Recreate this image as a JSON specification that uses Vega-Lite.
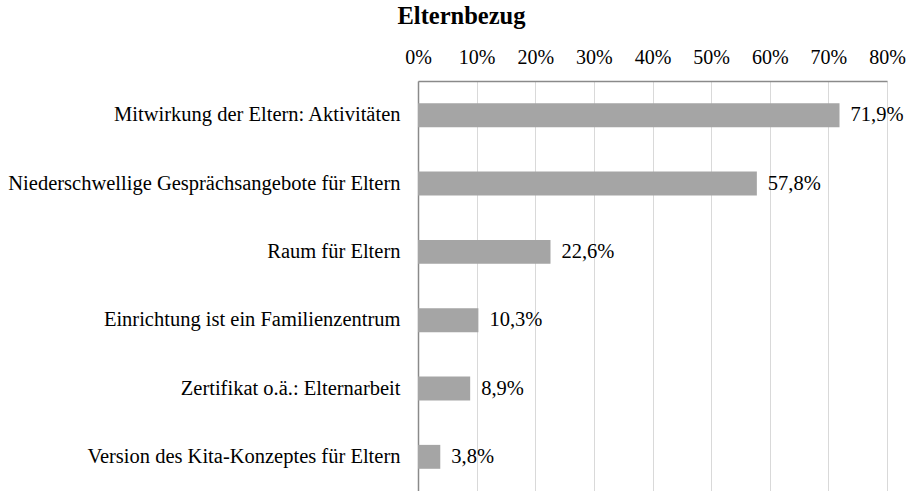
{
  "$schema": "https://vega.github.io/schema/vega-lite/v6.json",
  "autosize": "none",
  "width": 469,
  "height": 410,
  "padding": {"left": 418, "top": 81, "right": 25, "bottom": 0},
  "background": "white",
  "config": {
    "locale": {"number": {"decimal": ",", "thousands": ".", "grouping": [3], "currency": ["", " €"]}},
    "view": {"stroke": null},
    "font": "Liberation Serif"
  },
  "title": {
    "text": "Elternbezug",
    "font": "Liberation Serif",
    "fontSize": 24.5,
    "fontWeight": "bold",
    "color": "#000000",
    "anchor": "middle",
    "frame": "group",
    "dx": -191,
    "offset": 18
  },
  "data": {
    "values": [
      {"kategorie": "Mitwirkung der Eltern: Aktivitäten", "anteil": 0.719},
      {"kategorie": "Niederschwellige Gesprächsangebote für Eltern", "anteil": 0.578},
      {"kategorie": "Raum für Eltern", "anteil": 0.226},
      {"kategorie": "Einrichtung ist ein Familienzentrum", "anteil": 0.103},
      {"kategorie": "Zertifikat o.ä.: Elternarbeit", "anteil": 0.089},
      {"kategorie": "Version des Kita-Konzeptes für Eltern", "anteil": 0.038}
    ]
  },
  "encoding": {
    "y": {
      "field": "kategorie",
      "type": "nominal",
      "sort": null,
      "scale": {"paddingInner": 0.65, "paddingOuter": 0.325},
      "axis": {
        "title": null,
        "ticks": false,
        "domain": true,
        "domainColor": "#8a8a8a",
        "domainWidth": 1.5,
        "labelFont": "Liberation Serif",
        "labelFontSize": 20.5,
        "labelColor": "#000000",
        "labelPadding": 18,
        "labelLimit": 500
      }
    },
    "x": {
      "field": "anteil",
      "type": "quantitative",
      "scale": {"domain": [0, 0.8], "nice": false},
      "axis": {
        "orient": "top",
        "title": null,
        "format": ".0%",
        "values": [0, 0.1, 0.2, 0.3, 0.4, 0.5, 0.6, 0.7, 0.8],
        "ticks": false,
        "domain": true,
        "domainColor": "#8a8a8a",
        "domainWidth": 1.5,
        "grid": true,
        "gridColor": "#d9d9d9",
        "gridWidth": 1,
        "labelFont": "Liberation Serif",
        "labelFontSize": 20,
        "labelColor": "#000000",
        "labelPadding": 14,
        "labelFlush": false,
        "labelOverlap": false,
        "labelBound": false
      }
    }
  },
  "layer": [
    {"mark": {"type": "bar", "color": "#a5a5a5"}},
    {
      "mark": {"type": "text", "align": "left", "baseline": "middle", "dx": 11, "font": "Liberation Serif", "fontSize": 20.5, "color": "#000000"},
      "encoding": {"text": {"field": "anteil", "type": "quantitative", "format": ".1%"}}
    }
  ]
}
